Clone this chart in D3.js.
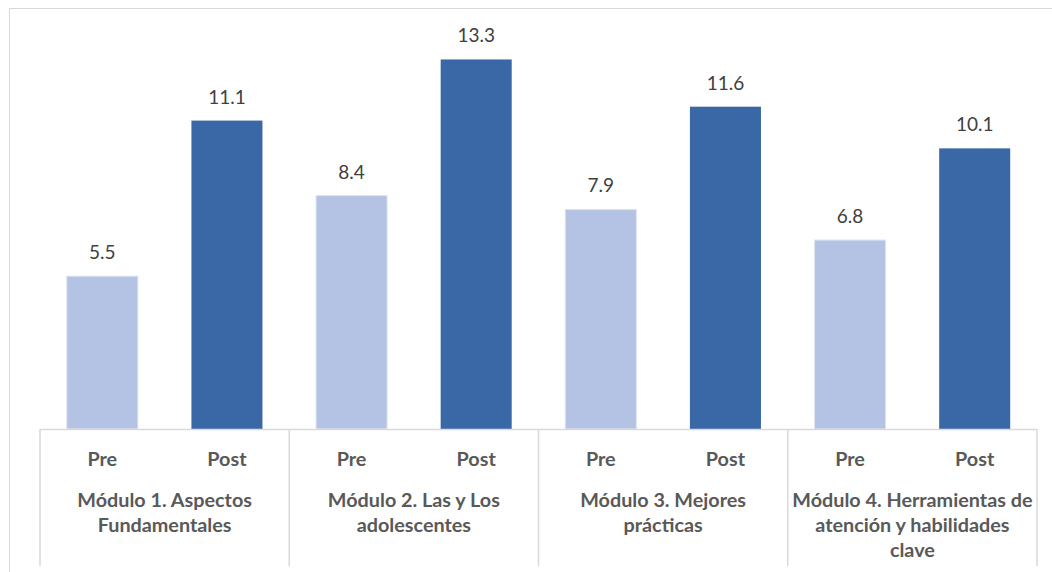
<!DOCTYPE html>
<html><head><meta charset="utf-8">
<script src="https://cdn.jsdelivr.net/npm/d3@7"></script>
<style>body{margin:0;background:#fff}svg{display:block}</style>
</head><body>
<script>
const modules = [["Módulo 1. Aspectos","Fundamentales"],["Módulo 2. Las y Los","adolescentes"],["Módulo 3. Mejores","prácticas"],["Módulo 4. Herramientas de","atención y habilidades","clave"]];
const phases = ["Pre","Post"];
const preValues = [5.5, 8.4, 7.9, 6.8];
const postValues = [11.1, 13.3, 11.6, 10.1];

(function(){
const W = 1052, H = 572;
const svg = d3.select("body").append("svg").attr("width", W).attr("height", H);
svg.append("rect").attr("x", 9.5).attr("y", 8.5).attr("width", 1060).attr("height", 600)
  .attr("fill", "none").attr("stroke", "#d9d9d9").attr("stroke-width", 1);

const left = 40, right = 1037, base = 429, plotTop = 40;
const x0 = d3.scaleBand().domain(d3.range(modules.length)).range([left, right]).padding(0);
const x1 = d3.scaleBand().domain(phases).range([0, x0.bandwidth()]).paddingInner(0.43).paddingOuter(0.215);
const y = d3.scaleLinear().domain([0, 14]).range([base, plotTop]);

const colors = {Pre: "#b4c3e3", Post: "#3a68a6"};
const data = [];
modules.forEach((m, i) => {
  data.push({i, p: "Pre", v: preValues[i]});
  data.push({i, p: "Post", v: postValues[i]});
});

const g = svg.append("g");
g.selectAll("rect.bar").data(data).join("rect").attr("class", "bar")
  .attr("x", d => x0(d.i) + x1(d.p))
  .attr("width", x1.bandwidth())
  .attr("y", d => y(d.v))
  .attr("height", d => base - y(d.v))
  .attr("fill", d => colors[d.p])
  .attr("stroke", d => d.p === "Pre" ? "#dde3f2" : "none")
  .attr("stroke-width", 1);

g.selectAll("text.val").data(data).join("text").attr("class", "val")
  .attr("x", d => x0(d.i) + x1(d.p) + x1.bandwidth() / 2)
  .attr("y", d => y(d.v) - 17)
  .attr("text-anchor", "middle")
  .attr("font-family", "Lato, 'Open Sans', sans-serif")
  .attr("font-size", 19)
  .attr("fill", "#404040")
  .text(d => d.v.toFixed(1));

const ax = svg.append("g").attr("stroke", "#d9d9d9").attr("stroke-width", 1.5);
ax.append("line").attr("x1", left).attr("x2", right).attr("y1", base + 0.5).attr("y2", base + 0.5);
const seps = d3.range(modules.length + 1).map(i => i < modules.length ? x0(i) : right);
ax.selectAll("line.sep").data(seps).join("line").attr("class", "sep")
  .attr("x1", d => d).attr("x2", d => d).attr("y1", base).attr("y2", 566);

const lab = svg.append("g").attr("font-family", "Lato, 'Open Sans', sans-serif")
  .attr("font-weight", "bold").attr("font-size", 19.8).attr("fill", "#595959").attr("text-anchor", "middle");
lab.selectAll("text.ph").data(data).join("text").attr("class", "ph")
  .attr("x", d => x0(d.i) + x1(d.p) + x1.bandwidth() / 2)
  .attr("y", 466)
  .text(d => d.p);
modules.forEach((m, i) => {
  const t = lab.append("text").attr("x", x0(i) + x0.bandwidth() / 2).attr("y", 507);
  m.forEach((line, k) => t.append("tspan").attr("x", x0(i) + x0.bandwidth() / 2).attr("dy", k ? 25 : 0).text(line));
});
})();
</script>
</body></html>
